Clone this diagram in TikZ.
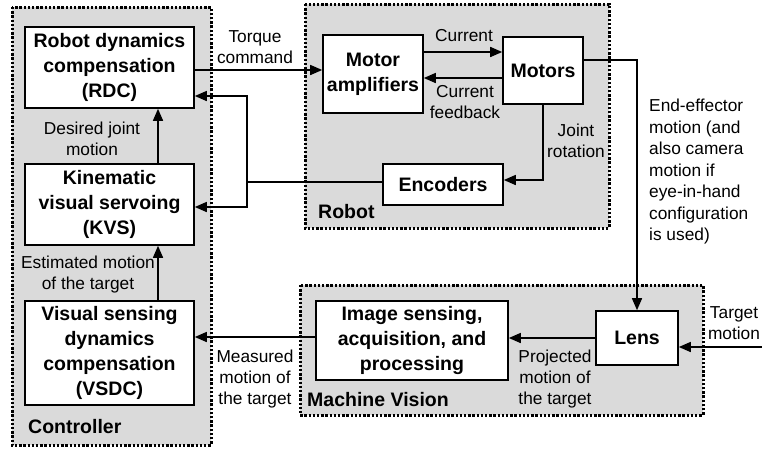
\documentclass[tikz,border=0pt]{standalone}
\usepackage{fontspec}
\setmainfont{Liberation Sans}
\usetikzlibrary{arrows.meta}
\definecolor{grpfill}{RGB}{218,218,218}
\tikzset{
  x=1pt, y=-1pt,
  group/.style={fill=grpfill, draw=black, line width=3pt, dash pattern=on 2.4pt off 1.8pt},
  block/.style={draw=black, fill=white, line width=1.6pt, align=center, inner sep=0pt,
    font=\bfseries\fontsize{19.5}{25}\selectfont},
  lbl/.style={align=center, inner sep=0pt, font=\fontsize{17.3}{21}\selectfont},
  grplbl/.style={anchor=west, inner sep=0pt, font=\bfseries\fontsize{19.5}{24}\selectfont},
  arr/.style={line width=1.5pt, -{Triangle[length=12pt,width=10pt]}},
  wire/.style={line width=1.5pt},
}
\begin{document}
\begin{tikzpicture}
\useasboundingbox (0,0) rectangle (762,448);

% subsystem frames
\draw[group] (12,7) rectangle (211,445);
\draw[group] (305,4) rectangle (609,228);
\draw[group] (300,285) rectangle (703,415);

\node[grplbl] (gctl) at (28,427) {Controller};
\node[grplbl] (grob) at (318,212) {Robot};
\node[grplbl] (gmv) at (307,400) {Machine Vision};

% blocks
\node[block, minimum width=169pt, minimum height=81pt] (rdc) at (109.5,67.5)
  {Robot dynamics\\compensation\\(RDC)};
\node[block, minimum width=169pt, minimum height=81pt] (kvs) at (109.5,204.5)
  {Kinematic\\visual servoing\\(KVS)};
\node[block, minimum width=169pt, minimum height=104pt] (vsdc) at (109.5,353)
  {Visual sensing\\dynamics\\compensation\\(VSDC)};
\node[block, minimum width=100pt, minimum height=78pt] (amp) at (373,74)
  {Motor\\amplifiers};
\node[block, minimum width=80pt, minimum height=67pt] (mot) at (543,70.5)
  {Motors};
\node[block, minimum width=120pt, minimum height=41pt] (enc) at (443,184.5)
  {Encoders};
\node[block, minimum width=192pt, minimum height=79pt] (img) at (412,340.5)
  {Image sensing,\\acquisition, and\\processing};
\node[block, minimum width=82pt, minimum height=54pt] (lens) at (637,338)
  {Lens};

% routing levels
\coordinate (yTq) at (0,70);
\coordinate (yCur) at (0,52);
\coordinate (yFb) at (0,78);
\coordinate (yJr) at (0,180);
\coordinate (yEnc) at (0,182);
\coordinate (yUp) at (0,96);
\coordinate (yDn) at (0,207);
\coordinate (yMeas) at (0,337);
\coordinate (yEe) at (0,60);
\coordinate (yTgt) at (0,347);
\coordinate (xCtl) at (158,0);
\coordinate (xBus) at (247,0);
\coordinate (xEe) at (637,0);
\coordinate (tgt) at (762,347);

% connectors
\draw[arr] (rdc.east |- yTq) -- (amp.west |- yTq);
\draw[arr] (amp.east |- yCur) -- (mot.west |- yCur);
\draw[arr] (mot.west |- yFb) -- (amp.east |- yFb);
\draw[arr] (mot.south) -- (mot.south |- yJr) -- (enc.east |- yJr);
\draw[wire] (enc.west |- yEnc) -- (xBus |- yEnc);
\draw[arr] (xBus |- yDn) -- (xBus |- yUp) -- (rdc.east |- yUp);
\draw[arr] (xBus |- yUp) -- (xBus |- yDn) -- (kvs.east |- yDn);
\draw[arr] (kvs.north -| xCtl) -- (rdc.south -| xCtl);
\draw[arr] (vsdc.north -| xCtl) -- (kvs.south -| xCtl);
\draw[arr] (img.west |- yMeas) -- (vsdc.east |- yMeas);
\draw[arr] (lens.west) -- (img.east |- lens.west);
\draw[arr] (mot.east |- yEe) -- (xEe |- yEe) -- (lens.north);
\draw[arr] (tgt) -- (lens.east |- yTgt);

% connector labels
\node[lbl] (lTq) at (255,47.5) {Torque\\command};
\node[lbl] (lCur) at (464,36) {Current};
\node[lbl] (lFb) at (465,102.5) {Current\\feedback};
\node[lbl] (lJr) at (576,141) {Joint\\rotation};
\node[lbl] (lDj) at (92,139) {Desired joint\\motion};
\node[lbl] (lEm) at (88,275) {Estimated motion\\of the target};
\node[lbl] (lMm) at (255,379) {Measured\\motion of\\the target};
\node[lbl] (lPm) at (555,379) {Projected\\motion of\\the target};
\node[lbl] (lTm) at (734,323) {Target\\motion};
\node[lbl, align=left, anchor=west, font=\fontsize{17.3}{21.5}\selectfont] (lEe) at (649,172)
  {End-effector\\motion (and\\also camera\\motion if\\eye-in-hand\\configuration\\is used)};
\end{tikzpicture}
\end{document}
